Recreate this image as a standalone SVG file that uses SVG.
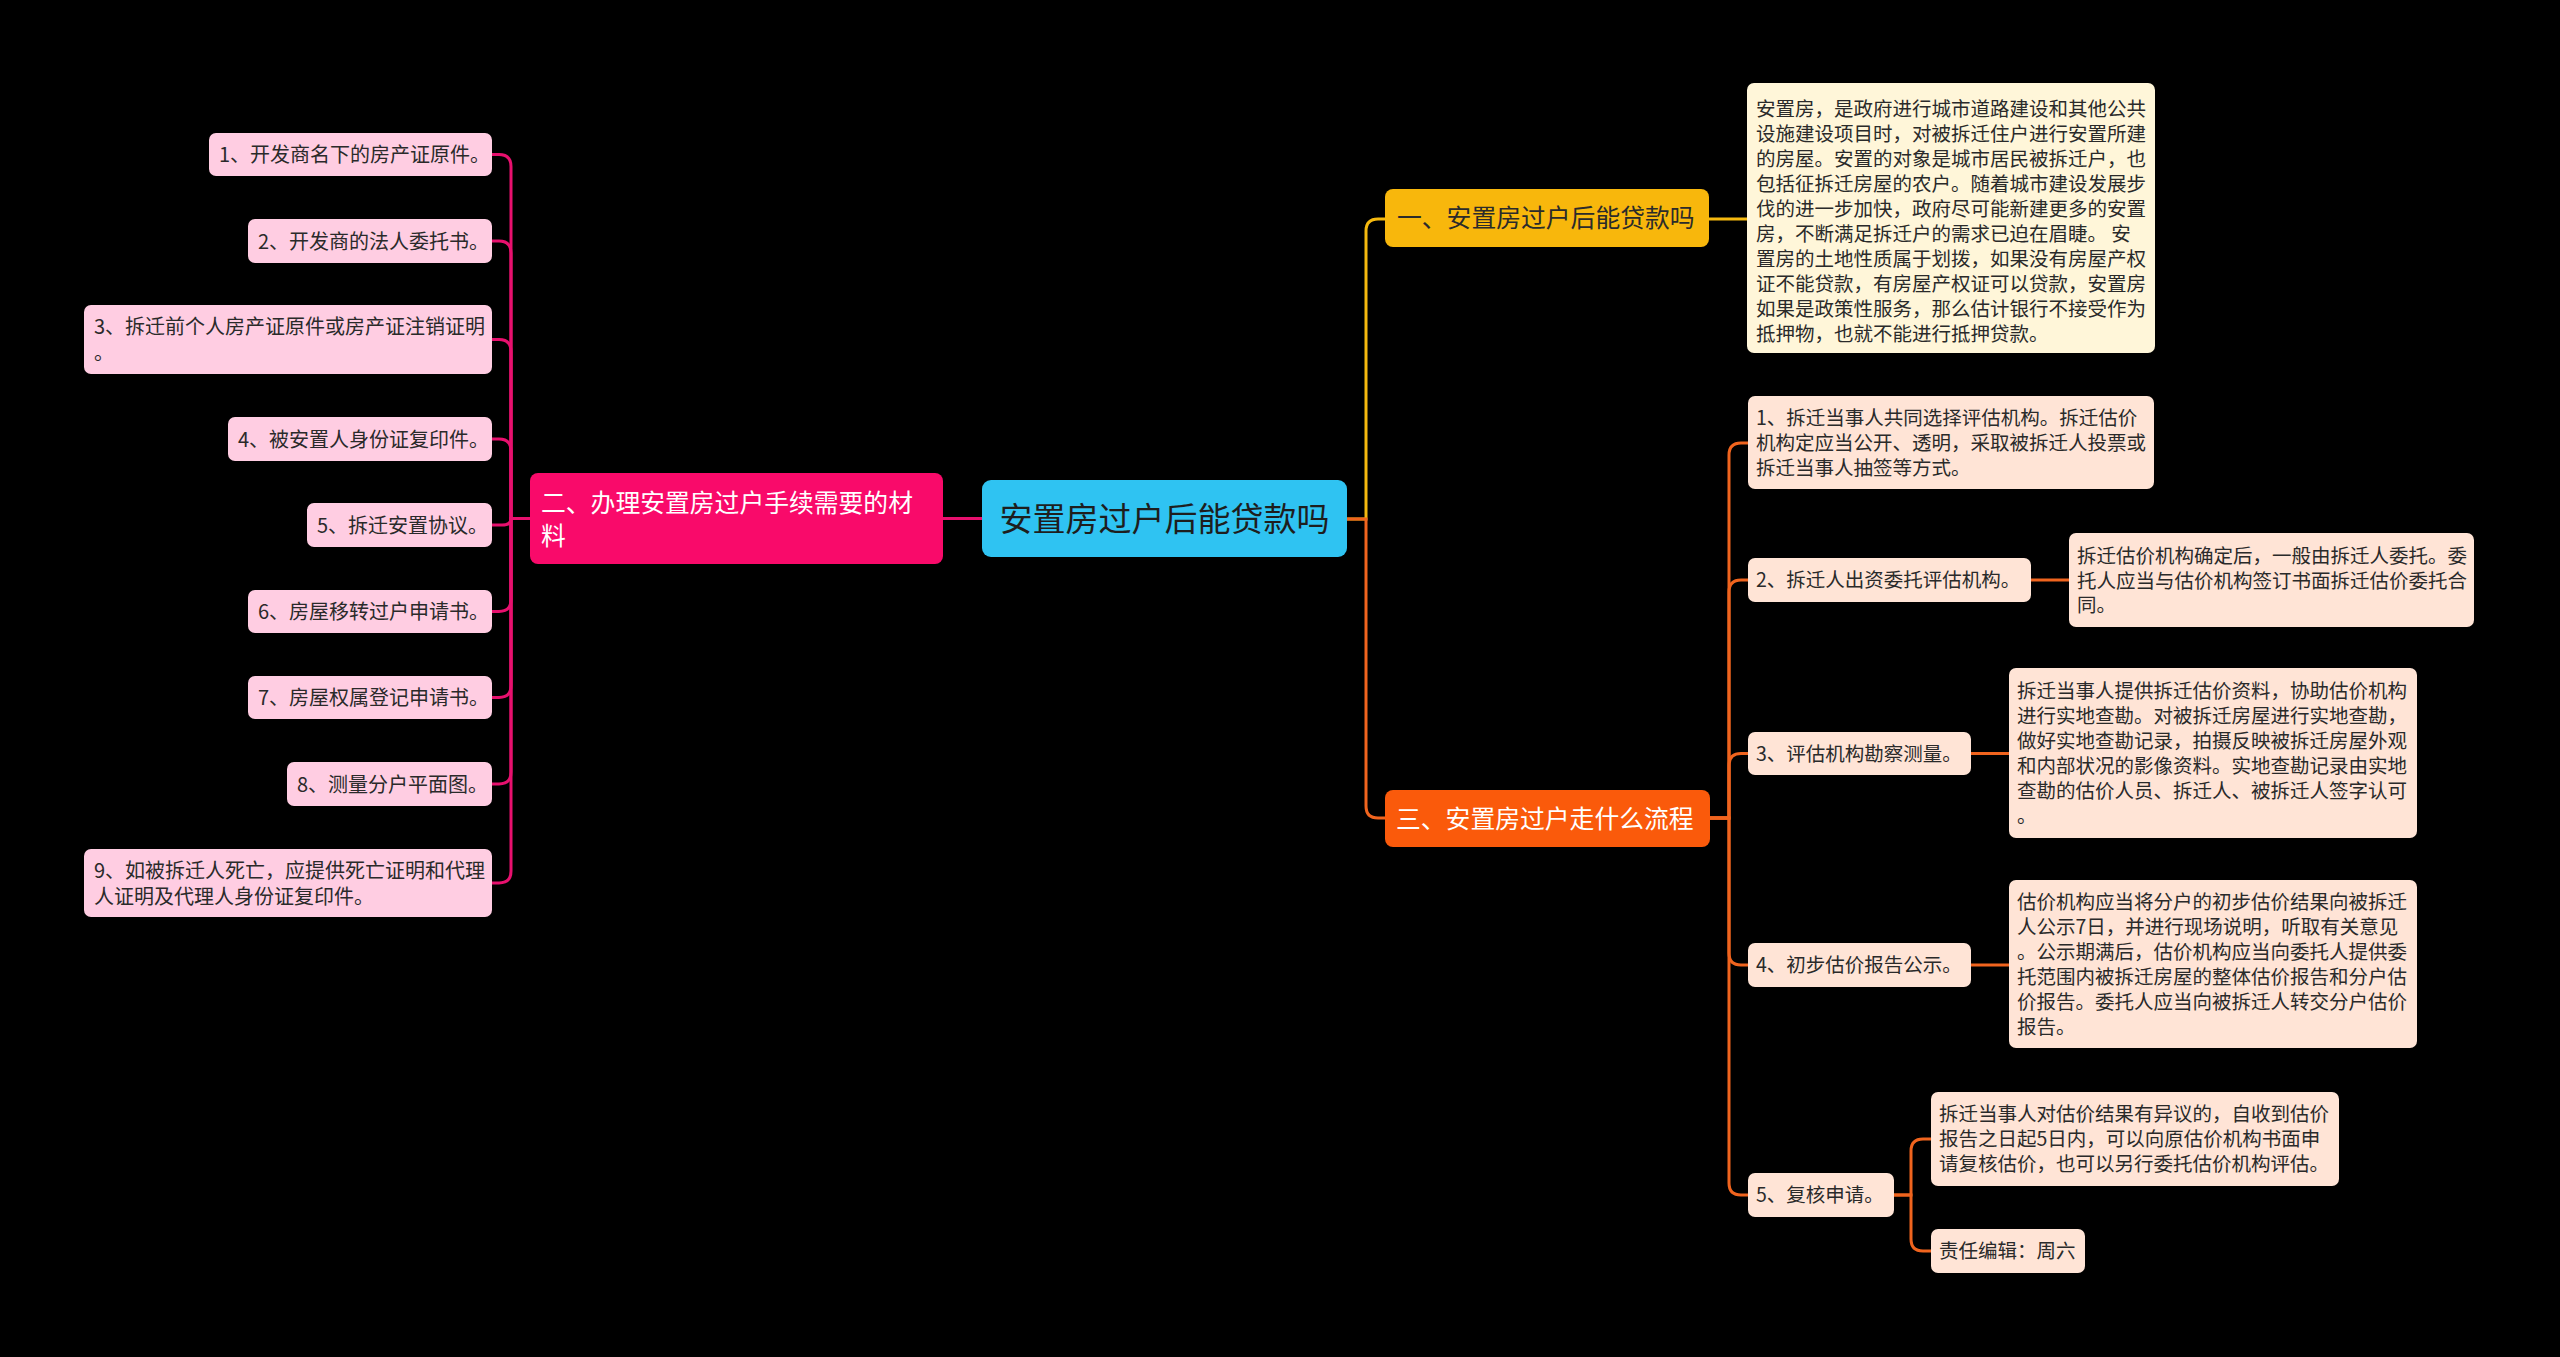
<svg xmlns="http://www.w3.org/2000/svg" width="2560" height="1357" viewBox="0 0 2560 1357">
<style>
text{font-family:"Noto Sans CJK SC","Noto Sans",sans-serif;}
.t20{font-size:20px;fill:#2a2a2a;}
.t19{font-size:19.5px;fill:#2a2a2a;}
.tm{font-size:24.8px;}
.leafL{fill:#FFCDE2;}
.leafR{fill:#FFE4D6;}
.cp{fill:none;stroke:#E8106E;stroke-width:3;}
.cy{fill:none;stroke:#F5B90F;stroke-width:3;}
.co{fill:none;stroke:#F0641E;stroke-width:3;}
</style>
<rect x="0" y="0" width="2560" height="1357" fill="#000"/>
<g id="connectors">
<path class="cp" d="M982,518.5 H943"/>
<path class="cp" d="M492,154.5 H499 Q511,154.5 511,166.5 V518.5 H530"/>
<path class="cp" d="M492,241 H499 Q511,241 511,253 V518.5 H530"/>
<path class="cp" d="M492,339.5 H499 Q511,339.5 511,351.5 V518.5 H530"/>
<path class="cp" d="M492,439 H499 Q511,439 511,451 V518.5 H530"/>
<path class="cp" d="M492,525 H502 Q511,525 511,518.5 H530"/>
<path class="cp" d="M492,611.5 H499 Q511,611.5 511,599.5 V518.5 H530"/>
<path class="cp" d="M492,697.5 H499 Q511,697.5 511,685.5 V518.5 H530"/>
<path class="cp" d="M492,784 H499 Q511,784 511,772 V518.5 H530"/>
<path class="cp" d="M492,883 H499 Q511,883 511,871 V518.5 H530"/>
<path class="cy" d="M1347,519 H1366 V231 Q1366,219 1378,219 H1385"/>
<path class="co" d="M1347,519 H1366 V806 Q1366,818 1378,818 H1385"/>
<path class="cy" d="M1709,219 H1747"/>
<path class="co" d="M1710,818 H1729 V455 Q1729,443 1741,443 H1748"/>
<path class="co" d="M1710,818 H1729 V592 Q1729,580 1741,580 H1748"/>
<path class="co" d="M1710,818 H1729 V765.5 Q1729,753.5 1741,753.5 H1748"/>
<path class="co" d="M1710,818 H1729 V953 Q1729,965 1741,965 H1748"/>
<path class="co" d="M1710,818 H1729 V1183 Q1729,1195 1741,1195 H1748"/>
<path class="co" d="M2031,580 H2069" stroke-width="4"/>
<path class="co" d="M1971,753.5 H2009" stroke-width="4"/>
<path class="co" d="M1971,965 H2009" stroke-width="4"/>
<path class="co" d="M1894,1195 H1911 V1151 Q1911,1139 1923,1139 H1931"/>
<path class="co" d="M1894,1195 H1911 V1239 Q1911,1251 1923,1251 H1931"/>
</g>
<g id="center">
<rect x="982" y="480" width="365" height="77" rx="9" fill="#2FC3F2"/>
<text x="1164.5" y="531" font-size="33" fill="#1e1e1e" text-anchor="middle">安置房过户后能贷款吗</text>
</g>
<g id="b2">
<rect x="530" y="473" width="413" height="91" rx="8" fill="#F90A6A"/>
<text class="tm" x="541" y="512" fill="#fff">二、办理安置房过户手续需要的材</text>
<text class="tm" x="541" y="545" fill="#fff">料</text>
</g>
<g id="L1"><rect class="leafL" x="209" y="133" width="283" height="43" rx="7"/><text class="t20" x="219" y="162">1、开发商名下的房产证原件。</text></g>
<g id="L2"><rect class="leafL" x="248" y="219" width="244" height="44" rx="7"/><text class="t20" x="258" y="248.5">2、开发商的法人委托书。</text></g>
<g id="L3"><rect class="leafL" x="84" y="305" width="408" height="69" rx="7"/><text class="t20" x="94" y="334">3、拆迁前个人房产证原件或房产证注销证明</text><text class="t20" x="94" y="360">。</text></g>
<g id="L4"><rect class="leafL" x="228" y="417" width="264" height="44" rx="7"/><text class="t20" x="238" y="446.5">4、被安置人身份证复印件。</text></g>
<g id="L5"><rect class="leafL" x="307" y="503" width="185" height="44" rx="7"/><text class="t20" x="317" y="532.5">5、拆迁安置协议。</text></g>
<g id="L6"><rect class="leafL" x="248" y="590" width="244" height="43" rx="7"/><text class="t20" x="258" y="619">6、房屋移转过户申请书。</text></g>
<g id="L7"><rect class="leafL" x="248" y="676" width="244" height="43" rx="7"/><text class="t20" x="258" y="705">7、房屋权属登记申请书。</text></g>
<g id="L8"><rect class="leafL" x="287" y="762" width="205" height="44" rx="7"/><text class="t20" x="297" y="791.5">8、测量分户平面图。</text></g>
<g id="L9"><rect class="leafL" x="84" y="849" width="408" height="68" rx="7"/><text class="t20" x="94" y="878">9、如被拆迁人死亡，应提供死亡证明和代理</text><text class="t20" x="94" y="904">人证明及代理人身份证复印件。</text></g>
<g id="b1">
<rect x="1385" y="189" width="324" height="58" rx="8" fill="#F8B70C"/>
<text class="tm" x="1397" y="227" fill="#2b2b2b">一、安置房过户后能贷款吗</text>
</g>
<g id="b1c">
<rect x="1747" y="83" width="408" height="270" rx="7" fill="#FFF6D9"/>
<text class="t19" x="1756" y="115.5">安置房，是政府进行城市道路建设和其他公共</text>
<text class="t19" x="1756" y="140.5">设施建设项目时，对被拆迁住户进行安置所建</text>
<text class="t19" x="1756" y="165.5">的房屋。安置的对象是城市居民被拆迁户，也</text>
<text class="t19" x="1756" y="190.5">包括征拆迁房屋的农户。随着城市建设发展步</text>
<text class="t19" x="1756" y="215.5">伐的进一步加快，政府尽可能新建更多的安置</text>
<text class="t19" x="1756" y="240.5">房，不断满足拆迁户的需求已迫在眉睫。 安</text>
<text class="t19" x="1756" y="265.5">置房的土地性质属于划拨，如果没有房屋产权</text>
<text class="t19" x="1756" y="290.5">证不能贷款，有房屋产权证可以贷款，安置房</text>
<text class="t19" x="1756" y="315.5">如果是政策性服务，那么估计银行不接受作为</text>
<text class="t19" x="1756" y="340.5">抵押物，也就不能进行抵押贷款。</text>
</g>
<g id="b3">
<rect x="1385" y="790" width="325" height="57" rx="8" fill="#FA5A0B"/>
<text class="tm" x="1396" y="827.5" fill="#fff">三、安置房过户走什么流程</text>
</g>
<g id="R1"><rect class="leafR" x="1748" y="396" width="406" height="93" rx="7"/>
<text class="t19" x="1756" y="425">1、拆迁当事人共同选择评估机构。拆迁估价</text>
<text class="t19" x="1756" y="450">机构定应当公开、透明，采取被拆迁人投票或</text>
<text class="t19" x="1756" y="475">拆迁当事人抽签等方式。</text></g>
<g id="R2"><rect class="leafR" x="1748" y="558" width="283" height="44" rx="7"/><text class="t19" x="1756" y="587">2、拆迁人出资委托评估机构。</text></g>
<g id="R2c"><rect class="leafR" x="2069" y="533" width="405" height="94" rx="7"/>
<text class="t19" x="2077" y="563">拆迁估价机构确定后，一般由拆迁人委托。委</text>
<text class="t19" x="2077" y="587.5">托人应当与估价机构签订书面拆迁估价委托合</text>
<text class="t19" x="2077" y="612">同。</text></g>
<g id="R3"><rect class="leafR" x="1748" y="732" width="223" height="43" rx="7"/><text class="t19" x="1756" y="761">3、评估机构勘察测量。</text></g>
<g id="R3c"><rect class="leafR" x="2009" y="668" width="408" height="170" rx="7"/>
<text class="t19" x="2017" y="698">拆迁当事人提供拆迁估价资料，协助估价机构</text>
<text class="t19" x="2017" y="723">进行实地查勘。对被拆迁房屋进行实地查勘，</text>
<text class="t19" x="2017" y="748">做好实地查勘记录，拍摄反映被拆迁房屋外观</text>
<text class="t19" x="2017" y="773">和内部状况的影像资料。实地查勘记录由实地</text>
<text class="t19" x="2017" y="798">查勘的估价人员、拆迁人、被拆迁人签字认可</text>
<text class="t19" x="2017" y="823">。</text></g>
<g id="R4"><rect class="leafR" x="1748" y="943" width="223" height="44" rx="7"/><text class="t19" x="1756" y="972">4、初步估价报告公示。</text></g>
<g id="R4c"><rect class="leafR" x="2009" y="880" width="408" height="168" rx="7"/>
<text class="t19" x="2017" y="909">估价机构应当将分户的初步估价结果向被拆迁</text>
<text class="t19" x="2017" y="934">人公示7日，并进行现场说明，听取有关意见</text>
<text class="t19" x="2017" y="959">。公示期满后，估价机构应当向委托人提供委</text>
<text class="t19" x="2017" y="984">托范围内被拆迁房屋的整体估价报告和分户估</text>
<text class="t19" x="2017" y="1009">价报告。委托人应当向被拆迁人转交分户估价</text>
<text class="t19" x="2017" y="1034">报告。</text></g>
<g id="R5"><rect class="leafR" x="1748" y="1173" width="146" height="44" rx="7"/><text class="t19" x="1756" y="1202">5、复核申请。</text></g>
<g id="R5c1"><rect class="leafR" x="1931" y="1092" width="408" height="94" rx="7"/>
<text class="t19" x="1939" y="1121">拆迁当事人对估价结果有异议的，自收到估价</text>
<text class="t19" x="1939" y="1146">报告之日起5日内，可以向原估价机构书面申</text>
<text class="t19" x="1939" y="1171">请复核估价，也可以另行委托估价机构评估。</text></g>
<g id="R5c2"><rect class="leafR" x="1931" y="1229" width="154" height="44" rx="7"/><text class="t19" x="1939" y="1258">责任编辑：周六</text></g>
</svg>
